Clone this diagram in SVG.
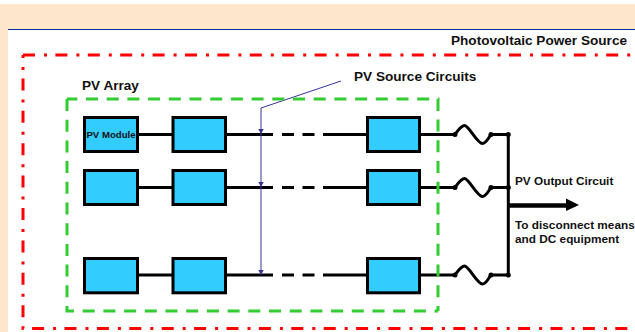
<svg xmlns="http://www.w3.org/2000/svg" width="635" height="332" viewBox="0 0 635 332">
<style>
text{font-family:"Liberation Sans",Arial,sans-serif;font-weight:700;fill:#111}
.l{font-size:13.600px}.s{font-size:11.800px}
.m{fill:#33ccff;stroke:#000;stroke-width:3}
.w{fill:none;stroke:#000;stroke-width:3}
.wd{fill:none;stroke:#000;stroke-width:3;stroke-dasharray:12 8.500}
.f{fill:none;stroke:#000;stroke-width:3}
.n{fill:#000}
.b{fill:none;stroke:#333399;stroke-width:1}
.r{fill:none;stroke:#ff0000;stroke-width:3;stroke-dasharray:12 9 3 8.400}
.g{fill:none;stroke:#33cc33;stroke-width:3;stroke-dasharray:12 8.700}
</style>
<defs>
<marker id="tri" markerUnits="userSpaceOnUse" markerWidth="6" markerHeight="6" refX="5" refY="3" orient="auto"><path d="M0 0.300L5 3L0 5.700Z" fill="#333399"/></marker>
<g id="fuse"><circle cx="455" cy="0" r="2.500" class="n"/><circle cx="491" cy="0" r="2.500" class="n"/><circle cx="508.300" cy="0" r="2.500" class="n"/><path class="f" d="M455 0C458 -4 461 -9 464.500 -9C469 -9 477 9 482.500 9C486 9 488 4 491 0"/><path class="w" d="M421 0H455M491 0H508"/></g>
</defs>
<rect x="0" y="4" width="635" height="328" fill="#fee6cc"/>
<rect x="8" y="29" width="627" height="303" fill="#fff"/>
<path d="M8 29.500H635" stroke="#003399" stroke-width="1" fill="none"/>
<g id="connectors">
<path class="w" d="M138 134.500H172M227 134.500H273"/><path class="wd" d="M282 134.500H315"/><path class="w" d="M323 134.500H366"/>
<path class="w" d="M138 187.500H172M227 187.500H273"/><path class="wd" d="M282 187.500H315"/><path class="w" d="M323 187.500H366"/>
<path class="w" d="M138 275H172M227 275H273"/><path class="wd" d="M282 275H315"/><path class="w" d="M323 275H366"/>
<use href="#fuse" y="134.500"/><use href="#fuse" y="187.500"/><use href="#fuse" y="275"/>
<path d="M508.300 134V276" fill="none" stroke="#000" stroke-width="3"/>
<path d="M508 205.500H567" fill="none" stroke="#000" stroke-width="4.500"/>
<path d="M566 198.500L579 205L566 211Z" fill="#000"/>
<path class="b" d="M341 81L261 108V134" marker-end="url(#tri)"/>
<path class="b" d="M261 134V187" marker-end="url(#tri)"/>
<path class="b" d="M261 187V275" marker-end="url(#tri)"/>
</g>
<g id="pv-source-boundary"><path class="r" d="M23 55H635"/><path class="r" stroke-dashoffset="9" d="M23 55V328.500H635"/></g>
<g id="pv-array-boundary"><path class="g" stroke-dashoffset="1.700" d="M67 99H438V311"/><path class="g" d="M67 99V311H438"/></g>
<g id="m11"><rect class="m" x="84.500" y="117.500" width="53" height="34"/><text x="111" y="138" text-anchor="middle" style="font-size:9.600px">PV Module</text></g>
<g id="m12"><rect class="m" x="173" y="117.500" width="52.500" height="34"/></g>
<g id="m13"><rect class="m" x="367.500" y="117.500" width="52" height="34"/></g>
<g id="m21"><rect class="m" x="84.500" y="170.500" width="53" height="34"/></g>
<g id="m22"><rect class="m" x="173" y="170.500" width="52.500" height="34"/></g>
<g id="m23"><rect class="m" x="367.500" y="170.500" width="52" height="34"/></g>
<g id="m31"><rect class="m" x="84.500" y="258.500" width="53" height="34.300"/></g>
<g id="m32"><rect class="m" x="173" y="258.500" width="52.500" height="34.300"/></g>
<g id="m33"><rect class="m" x="367.500" y="258.500" width="52" height="34.300"/></g>
<g id="labels">
<text class="l" x="451" y="45">Photovoltaic Power Source</text>
<text class="l" x="354" y="81">PV Source Circuits</text>
<text class="l" x="82" y="90">PV Array</text>
<text class="s" x="515" y="185">PV Output Circuit</text>
<text class="s" x="515" y="229">To disconnect means</text>
<text class="s" x="515" y="243">and DC equipment</text>
</g>
</svg>
